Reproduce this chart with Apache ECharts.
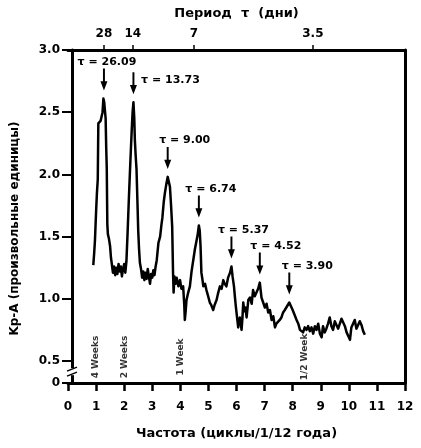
<!DOCTYPE html>
<html>
<head>
<meta charset="utf-8">
<script src="https://cdn.jsdelivr.net/npm/echarts@6/dist/echarts.min.js"></script>
<style>
  html, body { margin: 0; padding: 0; background: #fff; }
  #chart { width: 421px; height: 448px; }
</style>
</head>
<body>
<div id="chart"></div>
<script>
// spectrum (frequency in cycles per 1/12 year)
const frequency = [
  0.90, 0.93, 0.96, 1.00, 1.03, 1.06, 1.08, 1.12, 1.16, 1.20, 1.23, 1.26, 1.29, 1.32, 1.34, 1.36, 1.38, 1.40, 1.42, 1.46,
  1.50, 1.53, 1.56, 1.60, 1.64, 1.68, 1.72, 1.76, 1.80, 1.84, 1.88, 1.92, 1.96, 2.00, 2.04, 2.08, 2.12, 2.17, 2.22, 2.27,
  2.30, 2.33, 2.36, 2.38, 2.41, 2.44, 2.47, 2.50, 2.53, 2.56, 2.60, 2.64, 2.68, 2.72, 2.76, 2.80, 2.84, 2.88, 2.92, 2.96,
  3.00, 3.04, 3.08, 3.12, 3.16, 3.22, 3.28, 3.33, 3.36, 3.41, 3.45, 3.50, 3.55, 3.58, 3.63, 3.67, 3.71, 3.74, 3.76, 3.79,
  3.83, 3.87, 3.93, 3.99, 4.04, 4.10, 4.14, 4.16, 4.19, 4.22, 4.28, 4.34, 4.40, 4.46, 4.52, 4.58, 4.62, 4.66, 4.69, 4.72,
  4.75, 4.79, 4.82, 4.88, 4.93, 4.98, 5.05, 5.10, 5.17, 5.22, 5.29, 5.35, 5.41, 5.47, 5.53, 5.58, 5.64, 5.70, 5.77, 5.82,
  5.86, 5.91, 5.95, 5.98, 6.02, 6.06, 6.09, 6.12, 6.15, 6.18, 6.21, 6.24, 6.28, 6.32, 6.36, 6.42, 6.48, 6.54, 6.59, 6.65,
  6.71, 6.77, 6.83, 6.86, 6.89, 6.95, 7.01, 7.07, 7.13, 7.19, 7.25, 7.31, 7.37, 7.42, 7.48, 7.54, 7.60, 7.66, 7.72, 7.80,
  7.88, 7.94, 8.00, 8.07, 8.14, 8.20, 8.26, 8.32, 8.37, 8.43, 8.49, 8.55, 8.61, 8.67, 8.73, 8.79, 8.85, 8.91, 8.97, 9.03,
  9.08, 9.14, 9.20, 9.26, 9.32, 9.38, 9.44, 9.50, 9.56, 9.62, 9.68, 9.74, 9.80, 9.86, 9.92, 9.98, 10.04, 10.09, 10.15, 10.21,
  10.27, 10.33, 10.39, 10.45, 10.51, 10.57
]
const amplitude = [
  1.27, 1.36, 1.47, 1.70, 1.85, 1.96, 2.41, 2.40, 2.43, 2.42, 2.50, 2.61, 2.58, 2.50, 2.45, 2.22, 2.05, 1.60, 1.52, 1.48,
  1.42, 1.33, 1.28, 1.21, 1.26, 1.19, 1.25, 1.20, 1.28, 1.22, 1.26, 1.18, 1.24, 1.28, 1.21, 1.30, 1.52, 1.82, 2.10, 2.36,
  2.50, 2.58, 2.45, 2.28, 2.15, 2.04, 1.80, 1.55, 1.40, 1.29, 1.24, 1.17, 1.22, 1.15, 1.21, 1.16, 1.24, 1.18, 1.12, 1.20,
  1.17, 1.23, 1.19, 1.26, 1.31, 1.45, 1.50, 1.60, 1.65, 1.78, 1.85, 1.92, 1.98, 1.95, 1.90, 1.75, 1.58, 1.21, 1.05, 1.18,
  1.12, 1.17, 1.10, 1.15, 1.08, 1.10, 0.95, 0.83, 0.90, 0.99, 1.05, 1.10, 1.22, 1.31, 1.40, 1.47, 1.52, 1.59, 1.55, 1.42,
  1.21, 1.15, 1.10, 1.12, 1.07, 1.03, 0.97, 0.95, 0.91, 0.95, 0.99, 1.05, 1.10, 1.08, 1.15, 1.12, 1.10, 1.17, 1.21, 1.26,
  1.18, 1.10, 1.00, 0.93, 0.85, 0.77, 0.83, 0.85, 0.80, 0.75, 0.84, 0.97, 0.90, 0.93, 0.85, 0.99, 1.01, 0.96, 1.07, 1.02,
  1.05, 1.08, 1.13, 1.07, 1.01, 0.97, 0.93, 0.96, 0.89, 0.91, 0.83, 0.86, 0.77, 0.80, 0.81, 0.83, 0.85, 0.89, 0.91, 0.94,
  0.97, 0.94, 0.91, 0.87, 0.83, 0.80, 0.75, 0.76, 0.73, 0.77, 0.75, 0.78, 0.74, 0.77, 0.72, 0.78, 0.75, 0.80, 0.72, 0.69,
  0.78, 0.73, 0.76, 0.80, 0.85, 0.78, 0.75, 0.82, 0.83, 0.76, 0.77, 0.84, 0.81, 0.78, 0.73, 0.70, 0.67, 0.77, 0.80, 0.83,
  0.76, 0.75, 0.82, 0.79, 0.74, 0.71
]

// marked peaks
const peakFrequency = [1.28, 2.33, 3.55, 4.66, 5.82, 6.83, 7.88]
const peakAmplitude = [2.61, 2.58, 1.98, 1.59, 1.26, 1.13, 0.97]
const peakLabels = ['τ = 26.09', 'τ = 13.73', 'τ = 9.00', 'τ = 6.74', 'τ = 5.37', 'τ = 4.52', 'τ = 3.90']

// vertical period markers near the bottom
const weekFrequency = [1, 2, 4, 8.43]
const weekLabels = ['4 Weeks', '2 Weeks', '1 Week', '1/2 Week']

// axes
const bottomTicks = [0, 1, 2, 3, 4, 5, 6, 7, 8, 9, 10, 11, 12]
const periodTickFrequency = [1.28, 2.31, 4.48, 8.72]
const periodTickLabels = ['28', '14', '7', '3.5']
// the axis is broken below 0.5, so "0" sits at the compressed floor
const leftTickValues = [0.323, 0.5, 1, 1.5, 2, 2.5, 3]
const leftTickLabels = ['0', '0.5', '1.0', '1.5', '2.0', '2.5', '3.0']

const font = 'DejaVu Sans'
const yMin = leftTickValues[0]
const weekBase = 0.532

const chart = echarts.init(document.getElementById('chart'))

const arrow = 'path://M3.6,0 L6.4,0 L6.4,14 L10,14 L5,24 L0,14 L3.6,14 Z'
const labelNudge = [[3, 0], [37, 14], [17, 0], [12, 0], [12, 0], [16, 0], [18, 0]]
const text = (size) => ({ color: '#000', fontFamily: font, fontWeight: 'bold', fontSize: size })
const frameLine = { onZero: false, lineStyle: { color: '#000', width: 3 } }

chart.setOption({
  animation: false,
  grid: { left: 68, right: 16, top: 50, bottom: 65, outerBoundsMode: 'none' },
  xAxis: [{
    type: 'value',
    min: 0,
    max: 12,
    position: 'bottom',
    name: 'Частота (циклы/1/12 года)',
    nameLocation: 'middle',
    nameGap: 44,
    nameTextStyle: text(13),
    axisLine: frameLine,
    axisTick: { customValues: bottomTicks, length: 8, lineStyle: { color: '#000', width: 2.5 } },
    axisLabel: { customValues: bottomTicks, margin: 18, ...text(12) },
    splitLine: { show: false },
  }, {
    type: 'value',
    min: 0,
    max: 12,
    position: 'top',
    name: 'Период  τ  (дни)',
    nameLocation: 'middle',
    nameGap: 30,
    nameTextStyle: text(13),
    axisLine: frameLine,
    axisTick: { customValues: periodTickFrequency, length: 5, lineStyle: { color: '#000', width: 1.5 } },
    axisLabel: {
      customValues: periodTickFrequency,
      margin: 10,
      ...text(12),
      formatter: (v) => periodTickLabels[periodTickFrequency.indexOf(v)] ?? '',
    },
    splitLine: { show: false },
  }],
  yAxis: [{
    type: 'value',
    min: yMin,
    max: 3,
    offset: -4,
    name: 'Kp-A (произвольные единицы)',
    nameLocation: 'middle',
    nameGap: 51,
    nameTextStyle: { ...text(12), padding: [0, 24, 0, 0] },
    axisLine: frameLine,
    axisTick: { customValues: leftTickValues, length: 10, lineStyle: { color: '#000', width: 2 } },
    axisLabel: {
      customValues: leftTickValues,
      margin: 12,
      ...text(12),
      formatter: (v) => leftTickLabels[leftTickValues.indexOf(v)] ?? '',
    },
    splitLine: { show: false },
  }, {
    type: 'value',
    min: yMin,
    max: 3,
    position: 'right',
    axisLine: { show: true, ...frameLine },
    axisTick: { show: false },
    axisLabel: { show: false },
    splitLine: { show: false },
  }],
  series: [{
    type: 'line',
    data: frequency.map((f, i) => [f, amplitude[i]]),
    showSymbol: false,
    lineStyle: { color: '#000', width: 2.5, join: 'round' },
    markPoint: {
      symbol: arrow,
      symbolSize: [7, 22],
      symbolOffset: [0, -19],
      itemStyle: { color: '#000' },
      label: { show: true, position: 'top', distance: 1, ...text(11) },
      data: peakFrequency.map((f, i) => ({
        coord: [f, peakAmplitude[i]],
        label: { formatter: peakLabels[i], offset: labelNudge[i] },
      })),
    },
  }, {
    type: 'scatter',
    symbolSize: 0,
    data: weekFrequency.map((f) => [f, weekBase]),
    label: {
      show: true,
      position: 'inside',
      rotate: 90,
      ...text(9),
      formatter: (p) => weekLabels[p.dataIndex],
    },
  }],
})

// axis break marks on the left axis between 0 and 0.5
const [bx0, by] = chart.convertToPixel({ gridIndex: 0 }, [0, 0.41])
const bx = bx0 + 4
chart.setOption({
  graphic: [
    { type: 'rect', shape: { x: bx - 3, y: by - 4, width: 6, height: 7 }, style: { fill: '#fff' }, z: 10 },
    { type: 'line', shape: { x1: bx - 5, y1: by - 1, x2: bx + 5, y2: by - 5 }, style: { stroke: '#000', lineWidth: 1.5 }, z: 11 },
    { type: 'line', shape: { x1: bx - 5, y1: by + 4, x2: bx + 5, y2: by }, style: { stroke: '#000', lineWidth: 1.5 }, z: 11 },
  ],
})
</script>
</body>
</html>
